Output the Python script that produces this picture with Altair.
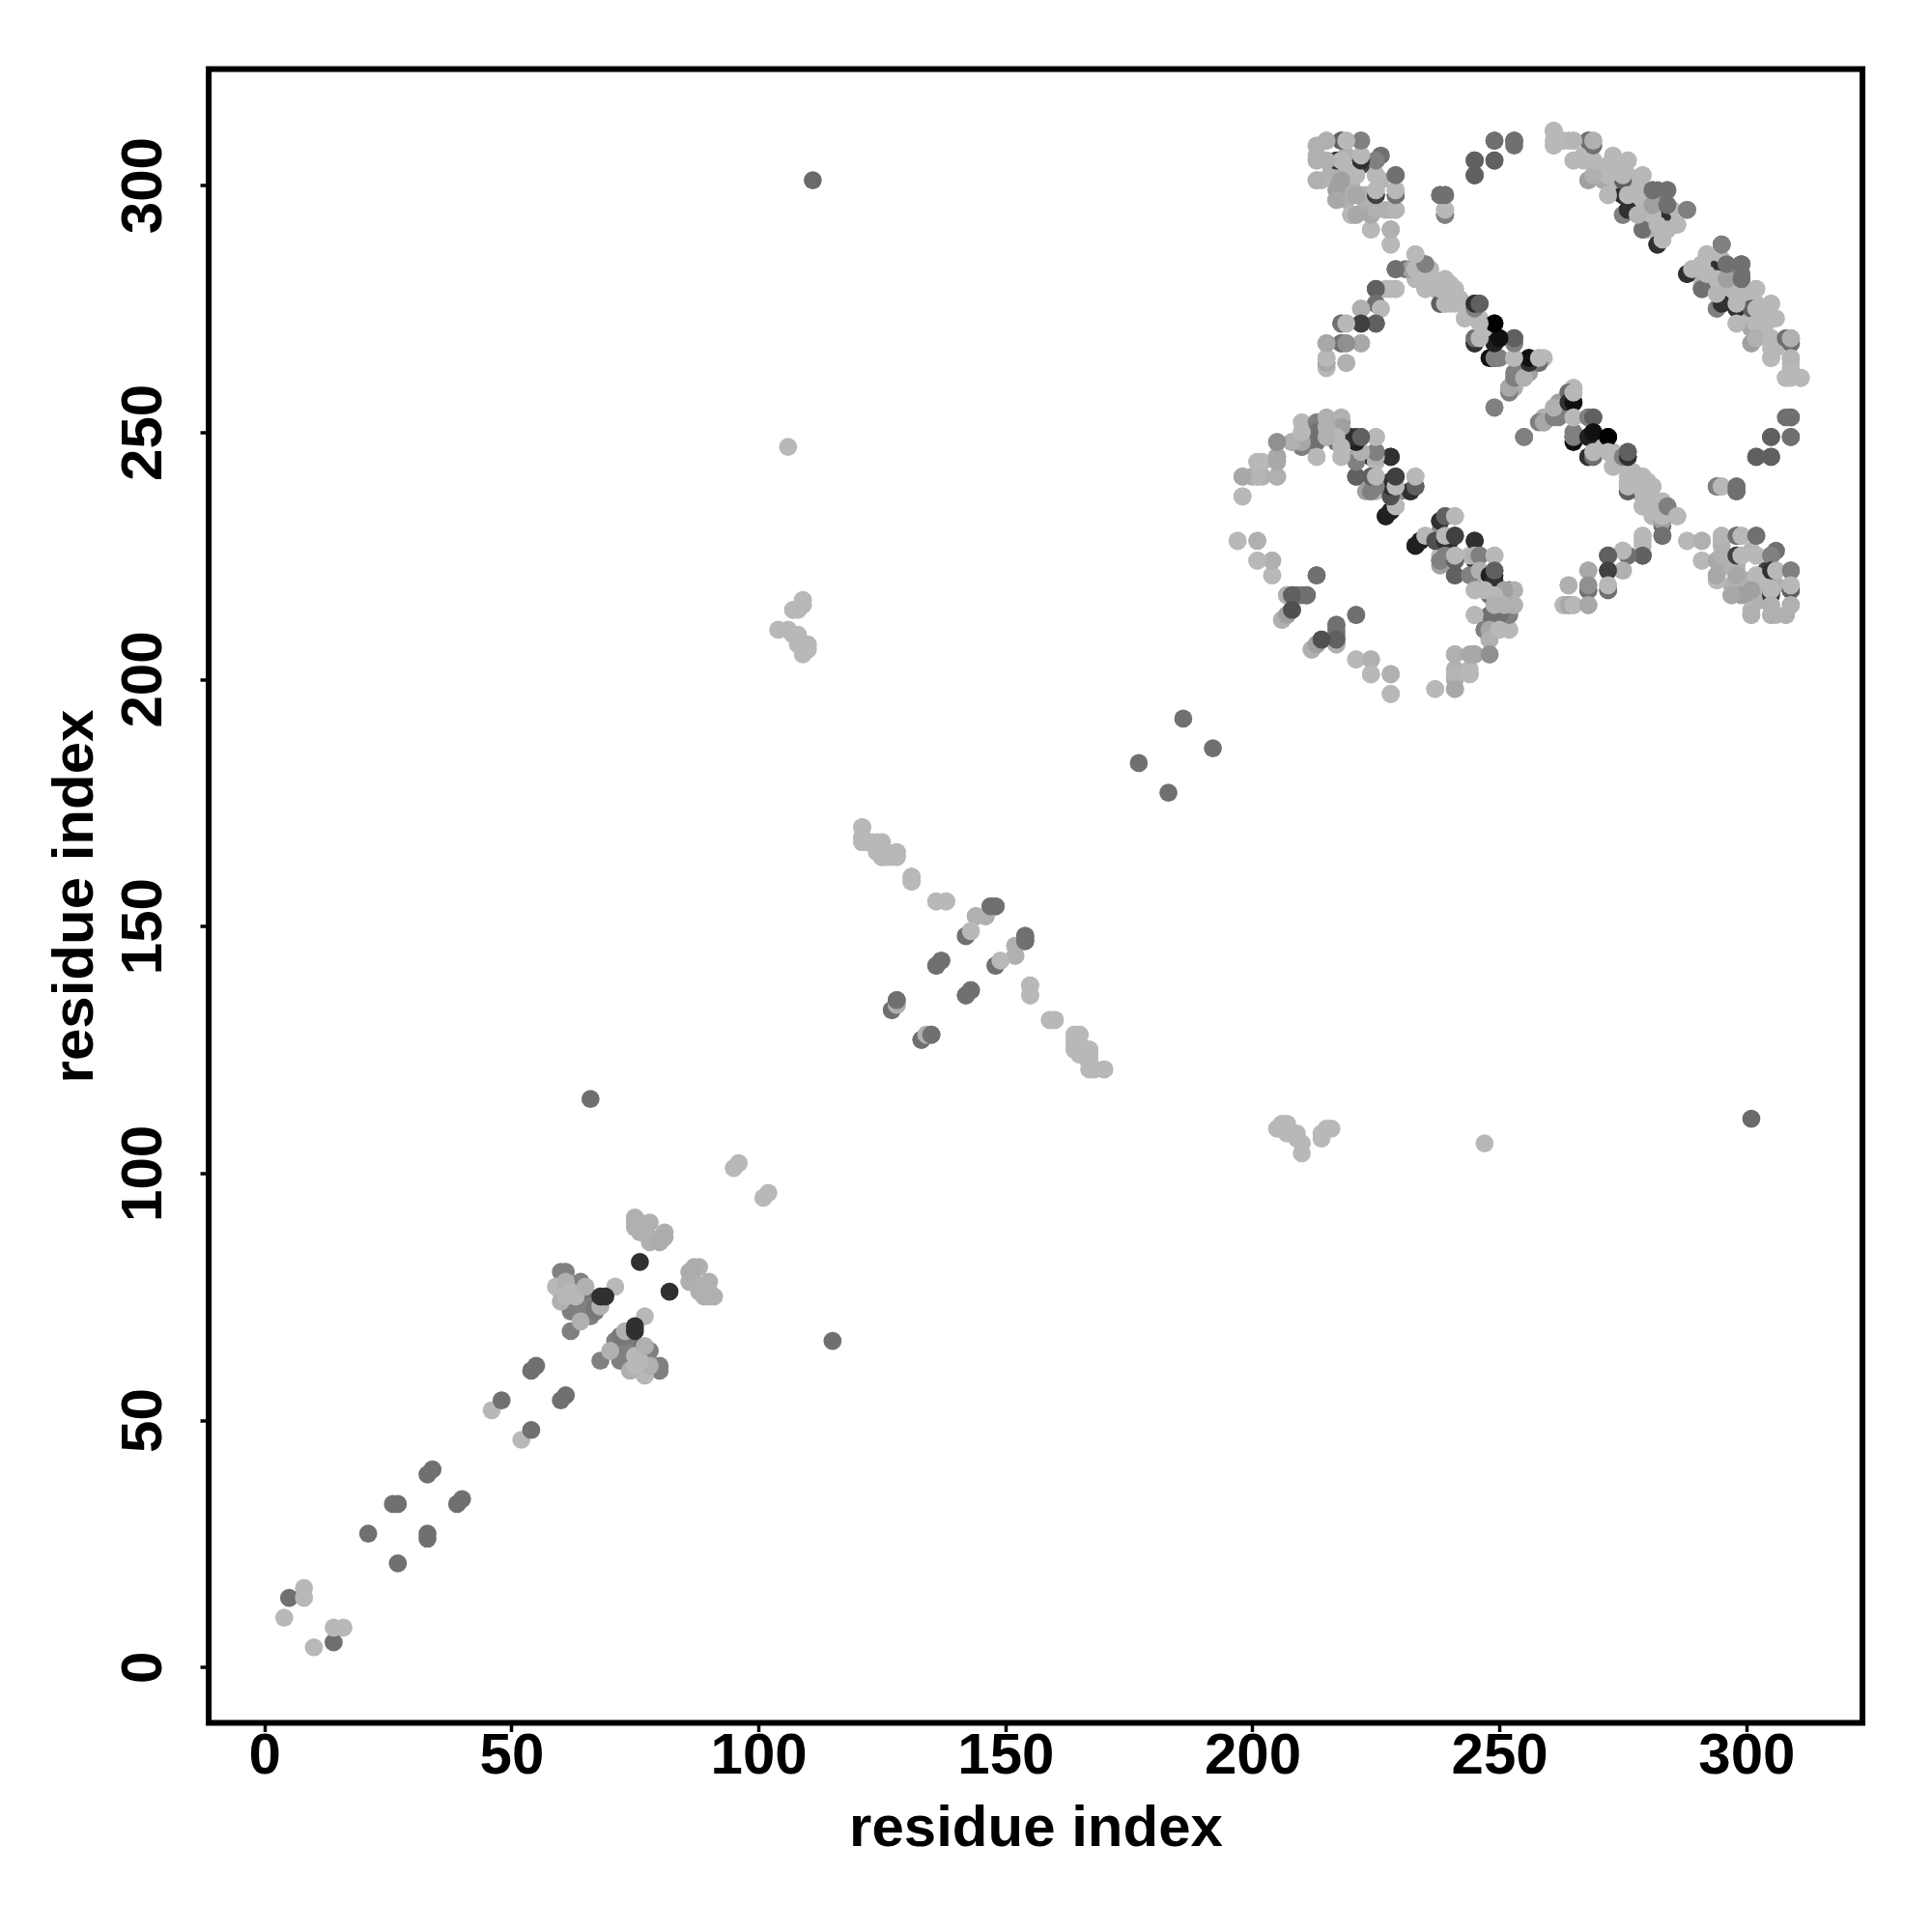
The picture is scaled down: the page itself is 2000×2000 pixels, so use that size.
import altair as alt
import pandas as pd

axis_ticks = [0, 50, 100, 150, 200, 250, 300]
axis_title = "residue index"

# (residue i, residue j, grey level) - upper triangle of a symmetric contact map
near_start = [(4,10,184),(5,14,112),(8,14,184),(8,16,184),(21,27,112),(26,33,112),(27,33,112),
    (33,39,112),(34,40,112),(46,52,184),(48,54,112),(54,60,112),(55,61,112),(95,101,184),(96,102,184)]
block_60 = [(60,80,128),(61,80,128),(64,78,128),(65,75,112),(62,72,128),(64,71,128),(66,73,128),(62,68,128),
    (63,73,128),(64,73,128),(65,72,128),(66,71,128),(67,73,120),(67,72,120),
    (64,70,176),(68,73,176),(59,77,184),(60,76,184),(61,78,176),(60,74,176),(61,75,184),(62,76,184),(63,75,184),(65,77,176),(71,77,184),
    (68,75,48),(69,75,48),(76,82,48)]
block_75 = [(75,91,176),(75,90,176),(75,89,176),(76,88,176),(76,90,176),(77,89,176),(78,90,176),(78,87,176),(78,86,176),(80,86,172),(81,88,176),(81,87,172)]
long_range = [(66,115,112),(106,247,184),(111,301,106),(177,183,112),(186,192,112)]
block_105 = [(104,210,184),(106,210,184),(107,209,184),(108,209,184),(107,214,184),(108,214,184),(109,215,184),
    (109,216,184),(108,207,184),(110,207,184),(109,206,184),(109,205,184),(110,206,184)]
middle = [(121,170,184),(121,168,184),(121,167,184),(122,167,184),(124,167,184),(125,167,184),(124,165,184),
    (125,164,184),(126,165,184),(127,164,184),(128,165,184),(128,164,184),(131,160,184),(131,159,184),
    (136,155,184),(138,155,184),(142,148,112),(143,149,184),(144,152,184),(146,152,184),(147,154,112),(148,154,112),
    (136,142,112),(137,143,112),(152,146,176),(152,144,176),(154,148,112),(154,147,112),(148,142,112),(149,143,184),
    (142,136,112),(143,137,112),(155,138,184),(155,136,184),(159,131,184),(160,131,184),
    (164,128,184),(165,128,184),(164,126,184),(164,125,184),(165,124,184),(167,125,184),(167,123,184),
    (167,121,184),(168,121,184),(170,121,184),(127,133,112),(128,134,176),(128,135,112),
    (133,127,112),(134,128,176),(135,128,112)]
fill_215 = [(219,303,184),(220,301,184),(226,301,181),(223,298,176),(219,297,176),(227,295,176)]
block_215 = [(218,309,112),(222,309,112),(218,305,64),(222,304,64),(213,308,176),(215,309,181),(219,309,184),
    (213,305,181),(215,305,184),(219,306,176),(222,306,184),(225,305,128),(226,306,112),
    (225,298,64),(229,298,112),(217,301,160),(218,301,160),(213,301,176),(214,301,181),(221,302,184),(225,302,181),
    (229,302,106),(229,299,184),(225,299,184),(221,298,165),(222,298,176),(217,297,176),(220,294,176),(221,294,160),
    (224,294,168),(225,295,176),(228,295,176),(229,295,184),(224,291,184),(228,291,168),(228,288,184)]
top_mid = [(249,309,112),(253,309,112),(253,308,112),(245,305,96),(249,305,96),(245,302,96),
    (238,298,112),(239,298,112),(239,294,102),(239,295,184)]
fill_strand = [(238,280,184),(240,278,184),(244,274,184),(247,271,184),
    (277,242,184),(280,236,184),(280,240,184),(274,244,184)]
strand_a = [(229,283,112),(231,283,112),(233,286,181),(233,283,181),(235,284,128),(236,283,184),(233,281,181),
    (235,279,184),(236,281,184),(239,281,184),(237,279,184),(241,279,184),(238,276,112),(239,276,184),(241,276,184),
    (245,276,64),(246,276,112),(243,273,184),(246,273,184),(249,272,5),(245,268,48),(245,269,128),(246,269,184),
    (249,268,32),(250,269,26),(253,268,128),(253,269,112),(249,265,16),(250,265,128),(253,265,184),(256,265,26),
    (258,264,112),(258,265,184),(259,265,184),(253,260,128),(252,259,128),(253,259,176),(254,262,144),(256,262,160)]
strand_a2 = [(249,255,128),(255,249,128),(258,252,128),(259,252,168),(261,253,128),(262,253,128),(261,255,176),
    (264,258,112),(264,256,48),(265,256,16),(265,258,184),(265,253,184),(268,253,128),(269,253,96),
    (265,248,16),(265,249,128),(268,249,32),(269,250,16),(272,249,0),
    (268,245,48),(269,245,112),(269,246,184),(272,246,184),(273,243,184),(275,245,128),(276,245,48),(276,246,96),
    (276,238,96),(276,239,184),(276,240,184),(279,241,184),(281,239,184),(279,238,184),(279,235,184),(281,234,184),
    (283,232,160),(283,233,184),(284,235,128),(286,233,184)]
arc_upper = [(225,279,96),(228,279,184),(229,279,184),(225,276,112),(226,275,184),(222,275,160),
    (218,272,128),(219,272,181),(222,272,80),(225,272,96),(218,268,128),(219,268,160),(222,268,176),
    (215,268,160),(215,264,144),(215,265,176),(215,263,168),(219,264,176)]
arc_right = [(283,229,112),(279,229,184),(279,227,184),(279,225,96),(276,225,112),(275,226,184),(275,222,176),
    (272,225,96),(272,222,64),(272,218,112),(272,219,184),(268,222,168),(268,218,112),(268,219,144),(264,219,176),
    (263,215,184),(264,215,168),(265,215,184),(268,215,168)]
fill_261 = [(267,305,184),(271,303,184),(274,303,184),(273,300,184),(278,300,184),(278,296,184),(280,293,184),(283,291,181),(285,292,184)]
block_261 = [(261,311,184),(261,308,184),(264,309,181),(265,309,176),(268,309,112),(269,309,184),
    (265,305,184),(269,305,184),(273,305,184),(276,305,184),(268,301,168),(271,301,168),(275,301,112),
    (269,302,181),(272,302,181),(276,302,184),(279,302,184),(275,298,48),(272,298,184),(276,299,184),
    (275,294,144),(276,295,48),(277,295,184),(281,299,112),(282,299,112),(284,299,112),(281,297,128),
    (279,291,112),(279,294,181),(280,291,184),(282,294,184),(283,294,48),(285,295,184),(288,295,128),
    (282,288,48),(283,289,184),(281,293,184),(282,291,176),(284,291,181),(286,292,184)]
fill_290 = [(293,280,184),(296,279,184),(297,277,184),(300,276,184),(300,274,184),(303,274,184),(304,272,184),
    (303,270,184),(306,267,184),(309,263,184)]
block_290 = [(288,282,48),(291,279,112),(294,275,128),(295,276,48),(298,275,48),(301,275,96),(293,283,48),
    (289,283,184),(292,286,184),(291,284,184),(292,282,184),(294,281,184),(294,278,181),(298,278,184),
    (298,276,184),(296,281,160),(296,284,112),(299,284,112),(299,281,112),(295,288,128),(302,279,184),(302,275,184),
    (305,276,184),(298,272,184),(302,272,184),(306,273,184),(301,268,160),(302,269,176),(305,269,184),(305,265,184),
    (308,269,112),(309,268,112),(309,269,176),(309,265,181),(308,261,184),(309,261,184),(311,261,184)]
arc_low = [(210,252,184),(213,252,128),(215,253,176),(218,252,112),(218,253,176),(205,248,160),(208,248,184),
    (210,247,128),(210,248,168),(213,249,128),(215,249,184),(213,245,184),(217,248,112),(218,249,184),(218,245,184),
    (221,249,48),(222,249,96),(225,249,184),(221,245,168),(224,245,48),(225,246,128),(225,244,184),(228,245,64),
    (221,241,96),(224,241,112),(225,241,184),(228,240,48),(229,241,64),(233,239,96),(232,238,32),(230,238,144),(233,241,184),
    (224,238,128),(225,239,144),(225,238,184),(227,233,48),(228,234,16),(228,237,184),(229,235,184),
    (198,241,168),(201,241,168),(202,241,176),(205,241,176),(201,244,184),(202,244,184),(205,245,168),(198,237,184)]
arc_left = [(197,228,184),(201,228,184),(201,224,184),(204,224,176),(204,221,184),(213,221,112),
    (207,217,184),(208,217,112),(210,217,112),(211,217,112),(206,212,176),(207,213,160),(208,214,80),(221,213,112),
    (217,211,112),(217,209,112),(217,207,176),(217,208,96),(212,206,176),(213,207,160),(214,208,80),
    (221,204,184),(224,204,176),(224,201,184),(228,201,176),(228,197,184)]
block_235 = [(233,227,32),(234,228,32),(235,229,184),(237,228,80),(238,232,48),(239,233,96),(241,233,184),
    (239,228,48),(239,229,184),(241,229,64),(245,228,48),(238,223,160),(238,224,128),(239,225,128),(241,224,96),(241,225,184),
    (241,221,96),(244,221,128),(245,225,176),(246,225,128),(249,225,184),(246,222,176),(248,221,32),(249,220,48),(249,222,96),
    (248,213,112),(250,213,112),(251,218,160),(245,218,184),(247,218,184),(249,217,184),(249,213,112),(249,215,176),
    (251,215,176),(245,213,184),(247,210,128),(248,210,168),
    (248,208,176),(250,210,184),(241,205,176),(244,205,168),(245,205,168),(248,205,144),(241,200,168),(241,201,181),
    (244,201,184),(237,198,184),(241,198,168)]
fill_300 = [(296,223,176),(300,220,176),(303,219,184),(299,217,160),(303,216,176)]
block_300 = [(309,253,112),(305,249,96),(309,249,112),(302,245,96),(305,245,96),(294,239,128),(295,239,184),
    (298,238,112),(298,239,112),(288,228,184),(291,228,176),(295,229,181),(298,229,112),(299,229,184),(302,229,112),
    (291,224,184),(294,224,168),(295,225,176),(298,225,64),(299,225,184),(302,225,184),(305,225,128),
    (294,220,184),(294,221,168),(298,221,168),(302,221,184),(305,222,48),(306,222,184),(309,222,128),
    (297,217,168),(301,218,160),(305,217,48),(305,218,184),(309,218,96),(309,219,184),(309,215,176),(305,215,176),
    (301,213,176),(305,213,176),(306,213,176),(308,213,176)]

groups = [near_start, block_60, block_75, long_range, block_105, middle, fill_215, block_215, top_mid, fill_strand, strand_a, strand_a2,
          arc_upper, arc_right, fill_261, block_261, fill_290, block_290, arc_low, arc_left, block_235, fill_300, block_300]

rows = []
for grp in groups:
    for i, j, g in grp:
        colour = f"#{g:02x}{g:02x}{g:02x}"
        rows.append({"x": i, "y": j, "colour": colour})
        rows.append({"x": j, "y": i, "colour": colour})
df = pd.DataFrame(rows)

font = "Liberation Sans"
def axis(orient_extra):
    return alt.Axis(values=axis_ticks, title=axis_title, grid=False, domain=False, tickColor="black", tickWidth=3.5,
                    tickSize=9, labelFont=font, labelFontSize=60, labelFontWeight="bold", labelColor="black",
                    titleFont=font, titleFontSize=60, titleFontWeight="bold", titleColor="black", labelFlush=False,
                    labelOverlap=False, **orient_extra)

chart = alt.Chart(df).mark_circle(size=350, opacity=1).encode(
    x=alt.X("x:Q", scale=alt.Scale(domain=[-11.3, 323.5], nice=False, zero=False),
            axis=axis(dict(labelPadding=-4, titlePadding=16))),
    y=alt.Y("y:Q", scale=alt.Scale(domain=[-11.3, 323.5], nice=False, zero=False),
            axis=axis(dict(labelAngle=270, labelAlign="center", labelBaseline="bottom", labelPadding=28, titlePadding=10))),
    color=alt.Color("colour:N", scale=None),
).properties(
    width=1712, height=1712, background="white",
    autosize=alt.AutoSizeParams(type="none"),
    padding={"left": 208, "top": 63.5, "right": 60, "bottom": 200},
).configure_view(stroke="black", strokeWidth=6)

chart.save("out.html", embed_options={"renderer": "svg", "actions": False})
